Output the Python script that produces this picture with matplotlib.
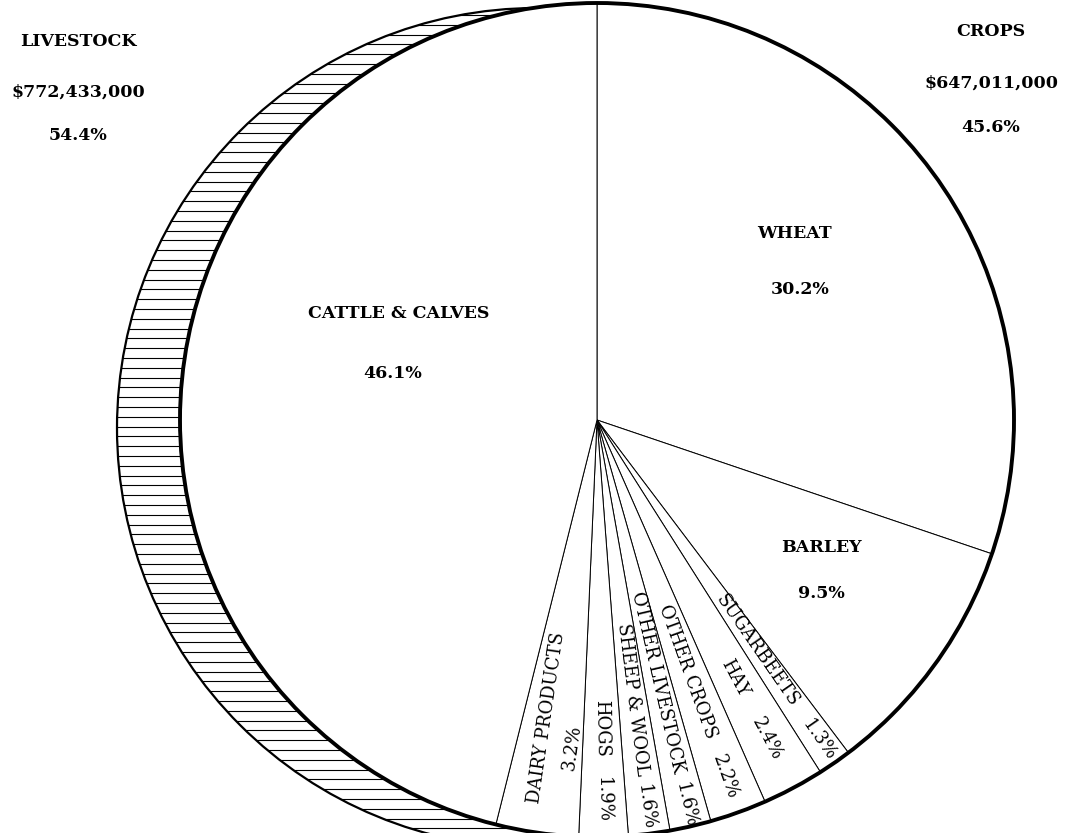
import numpy as np
import matplotlib.pyplot as plt
from matplotlib.patches import Circle

# Cash farm income by source
labels = ['WHEAT', 'BARLEY', 'SUGARBEETS', 'HAY', 'OTHER CROPS',
          'OTHER LIVESTOCK', 'SHEEP & WOOL', 'HOGS', 'DAIRY PRODUCTS',
          'CATTLE & CALVES']
shares = [30.2, 9.5, 1.3, 2.4, 2.2, 1.6, 1.6, 1.9, 3.2, 46.1]

group_names = ['LIVESTOCK', 'CROPS']
group_dollars = ['$772,433,000', '$647,011,000']
group_shares = [54.4, 45.6]

# layout (pixel based, pie centre at 597,420 radius 417)
CX, CY, R = 597, 420, 417
W, H = 1067, 833


def px(x, y):
    return (x - CX) / R, (CY - y) / R


fig = plt.figure(figsize=(W / 100, H / 100), dpi=100)
ax = fig.add_axes([0, 0, 1, 1])

# shaded rim on the left (livestock edge)
rim_c = px(537, 428)
rim = Circle(rim_c, 420 / R, facecolor='white', edgecolor='black', lw=1.6, zorder=1)
ax.add_patch(rim)
ys = np.arange(-1.05, 1.05, 9.8 / R)
hl = ax.hlines(ys, -1.3, 1.0, colors='black', lw=0.8, zorder=1.5)
hl.set_clip_path(rim)

wedges, _ = ax.pie(shares, startangle=90, counterclock=False, radius=1,
                   center=(0, 0), frame=True,
                   wedgeprops=dict(facecolor='white', edgecolor='black', linewidth=0.7))
for w in wedges:
    w.set_zorder(3)
ax.add_patch(Circle((0, 0), 1, facecolor='none', edgecolor='black', lw=2.8, zorder=4))

serif = 'DejaVu Serif'
big = dict(family=serif, fontsize=12.5, fontweight='bold', ha='center', va='center', zorder=5)
small = dict(family=serif, fontsize=13, ha='center', va='center', zorder=5,
             rotation_mode='anchor')

# big slices: name / percent positions in pixels
big_pos = {'WHEAT': ((794, 233), (800, 289)),
           'BARLEY': ((821, 548), (821, 593)),
           'CATTLE & CALVES': ((399, 314), (393, 374))}
# small slices: radial distance of name and percent, sideways offset
small_pos = {'SUGARBEETS': (281, 390, 0, 0),
             'HAY': (293, 361, 0, 0),
             'OTHER CROPS': (267, 379, 0, 0),
             'OTHER LIVESTOCK': (269, 395, 0, 0),
             'SHEEP & WOOL': (282, 390, 0, 0),
             'HOGS': (308, 380, 0, 0),
             'DAIRY PRODUCTS': (302, 328, -7, 22)}

for w, name, s in zip(wedges, labels, shares):
    pct = f'{s}%'
    if name in big_pos:
        (nx, ny), (qx, qy) = big_pos[name]
        ax.text(*px(nx, ny), name, **big)
        ax.text(*px(qx, qy), pct, **big)
        continue
    mid = (w.theta1 + w.theta2) / 2
    a = np.deg2rad(mid)
    d = np.array([np.cos(a), np.sin(a)])
    perp = np.array([np.sin(a), -np.cos(a)])
    rot = mid if mid > -90 else mid + 180
    if mid <= -90:
        perp = -perp
    rn, rp, tn, tp = small_pos[name]
    pn = d * rn / R + perp * tn / R
    pp = d * rp / R + perp * tp / R
    ax.text(pn[0], pn[1], name, rotation=rot, **small)
    ax.text(pp[0], pp[1], pct, rotation=rot, **small)

# group totals in the corners
corner = {'LIVESTOCK': (78, [42, 92, 135]), 'CROPS': (991, [32, 83, 127])}
for g, dol, sh in zip(group_names, group_dollars, group_shares):
    x, yy = corner[g]
    for txt, y in zip([g, dol, f'{sh}%'], yy):
        ax.text(*px(x, y), txt, **big)

ax.set_xlim(-CX / R, (W - CX) / R)
ax.set_ylim((CY - H) / R, CY / R)
ax.set_aspect('equal', adjustable='box')
ax.axis('off')

fig.savefig('out.png', dpi=100, facecolor='white')
